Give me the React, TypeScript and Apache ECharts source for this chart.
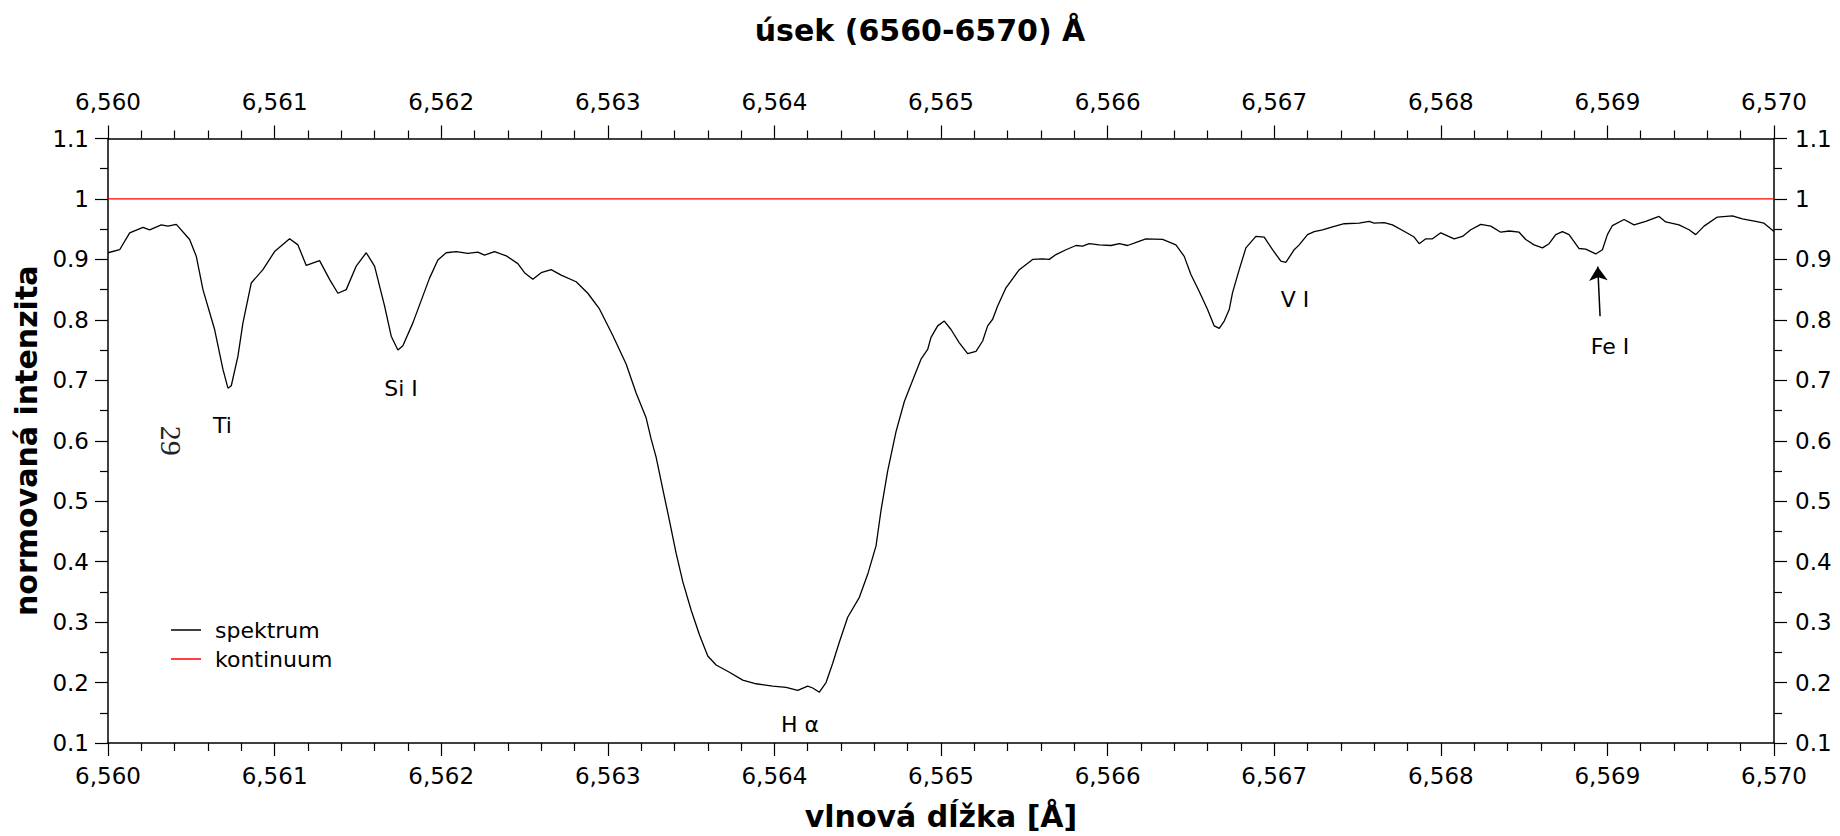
import React, { useEffect, useRef } from "react";
import * as echarts from "echarts";

const FONT = "DejaVu Sans";

const wavelengths = [
  6560.0, 6560.07, 6560.13, 6560.21, 6560.25, 6560.32, 6560.36, 6560.41, 6560.49, 6560.53,
  6560.57, 6560.64, 6560.69, 6560.72, 6560.74, 6560.78, 6560.81, 6560.86, 6560.93, 6561.0,
  6561.09, 6561.14, 6561.19, 6561.27, 6561.33, 6561.38, 6561.43, 6561.49, 6561.55, 6561.6,
  6561.66, 6561.7, 6561.74, 6561.77, 6561.83, 6561.93, 6561.98, 6562.03, 6562.09, 6562.16,
  6562.22, 6562.26, 6562.32, 6562.39, 6562.46, 6562.5, 6562.55, 6562.6, 6562.66, 6562.72,
  6562.81, 6562.88, 6562.95, 6563.03, 6563.11, 6563.17, 6563.23, 6563.26, 6563.29, 6563.33,
  6563.37, 6563.41, 6563.45, 6563.5, 6563.55, 6563.6, 6563.65, 6563.73, 6563.81, 6563.89,
  6563.99, 6564.07, 6564.14, 6564.2, 6564.23, 6564.27, 6564.31, 6564.35, 6564.39, 6564.44,
  6564.51, 6564.56, 6564.61, 6564.64, 6564.68, 6564.73, 6564.78, 6564.84, 6564.88, 6564.92,
  6564.94, 6564.98, 6565.02, 6565.06, 6565.11, 6565.16, 6565.21, 6565.25, 6565.28, 6565.31,
  6565.34, 6565.39, 6565.47, 6565.55, 6565.61, 6565.65, 6565.69, 6565.75, 6565.81, 6565.85,
  6565.89, 6565.95, 6566.02, 6566.07, 6566.12, 6566.18, 6566.23, 6566.33, 6566.41, 6566.46,
  6566.5, 6566.55, 6566.6, 6566.64, 6566.67, 6566.7, 6566.73, 6566.75, 6566.79, 6566.83,
  6566.89, 6566.94, 6566.99, 6567.04, 6567.07, 6567.12, 6567.15, 6567.2, 6567.24, 6567.29,
  6567.35, 6567.42, 6567.51, 6567.57, 6567.6, 6567.66, 6567.71, 6567.79, 6567.84, 6567.87,
  6567.91, 6567.95, 6568.0, 6568.08, 6568.13, 6568.18, 6568.24, 6568.3, 6568.36, 6568.41,
  6568.47, 6568.51, 6568.56, 6568.61, 6568.65, 6568.69, 6568.73, 6568.77, 6568.83, 6568.87,
  6568.93, 6568.97, 6569.0, 6569.03, 6569.1, 6569.16, 6569.23, 6569.31, 6569.35, 6569.43,
  6569.49, 6569.53, 6569.58, 6569.66, 6569.75, 6569.81, 6569.89, 6569.94, 6570.0,
];

const intensities = [
  0.911, 0.916, 0.944, 0.953, 0.949, 0.957, 0.955, 0.958, 0.933, 0.905,
  0.85, 0.784, 0.718, 0.687, 0.691, 0.74, 0.795, 0.861, 0.883, 0.913,
  0.934, 0.924, 0.89, 0.898, 0.867, 0.844, 0.85, 0.889, 0.911, 0.889,
  0.823, 0.773, 0.75, 0.757, 0.795, 0.869, 0.899, 0.911, 0.913, 0.91,
  0.912, 0.907, 0.913, 0.906, 0.893, 0.878, 0.867, 0.878, 0.883, 0.874,
  0.863, 0.844, 0.818, 0.774, 0.727, 0.679, 0.638, 0.603, 0.573, 0.52,
  0.468, 0.414, 0.367, 0.32, 0.279, 0.244, 0.229, 0.217, 0.204, 0.198,
  0.194, 0.192, 0.187, 0.194, 0.191, 0.184, 0.2, 0.232, 0.267, 0.308,
  0.341, 0.379, 0.426, 0.485, 0.55, 0.615, 0.665, 0.707, 0.735, 0.751,
  0.771, 0.79, 0.798, 0.784, 0.762, 0.744, 0.748, 0.765, 0.79, 0.801,
  0.823, 0.853, 0.883, 0.9, 0.901, 0.9, 0.908, 0.916, 0.923, 0.922,
  0.926, 0.924, 0.923, 0.926, 0.923, 0.929, 0.934, 0.933, 0.924, 0.905,
  0.875, 0.847, 0.817, 0.79, 0.786, 0.798, 0.817, 0.845, 0.883, 0.919,
  0.938, 0.937, 0.916, 0.897, 0.895, 0.916, 0.924, 0.941, 0.946, 0.949,
  0.954, 0.959, 0.96, 0.963, 0.96, 0.961, 0.957, 0.945, 0.937, 0.926,
  0.934, 0.934, 0.944, 0.934, 0.938, 0.949, 0.958, 0.955, 0.945, 0.947,
  0.945, 0.933, 0.924, 0.919, 0.926, 0.941, 0.946, 0.941, 0.918, 0.917,
  0.909, 0.916, 0.941, 0.956, 0.966, 0.957, 0.963, 0.971, 0.962, 0.957,
  0.949, 0.941, 0.955, 0.97, 0.972, 0.967, 0.963, 0.96, 0.946,
];

const continuumX = [6560, 6570];
const continuumY = [1, 1];

const annotationTexts = ["Ti", "Si I", "H α", "V I", "Fe I", "29"];
const annotationX = [6560.687, 6561.759, 6564.154, 6567.125, 6569.016, 6560.384];
const annotationY = [0.625, 0.687, 0.13, 0.834, 0.756, 0.6];

const arrowFrom = [6568.956, 0.806];
const arrowTo = [6568.942, 0.888];

const xMin = 6560;
const xMax = 6570;
const yMin = 0.1;
const yMax = 1.1;

const fmtX = (v: number) => {
  const s = String(Math.round(v));
  return s.slice(0, 1) + "," + s.slice(1);
};
const fmtY = (v: number) => String(Math.round(v * 10) / 10);

export default function App() {
  const ref = useRef<HTMLDivElement>(null);

  useEffect(() => {
    if (!ref.current) return;
    const chart = echarts.init(ref.current, null, { renderer: "svg" });

    const axisLine = { show: true, onZero: false, lineStyle: { color: "#000", width: 1.5 } };
    const axisTick = { show: true, length: 13, lineStyle: { color: "#000", width: 1.2 } };
    const minorLine = { color: "#000", width: 1.2 };
    const labelStyle = { fontSize: 23, color: "#000", fontFamily: FONT };
    const nameStyle = { fontSize: 30, fontWeight: "bold" as const, color: "#000", fontFamily: FONT };

    const xBase = {
      type: "value" as const,
      min: xMin,
      max: xMax,
      interval: 1,
      axisLine,
      axisTick,
      minorTick: { show: true, splitNumber: 5, length: 8, lineStyle: minorLine },
      splitLine: { show: false },
      minorSplitLine: { show: false },
    };
    const yBase = {
      type: "value" as const,
      min: yMin,
      max: yMax,
      interval: 0.1,
      axisLine,
      axisTick,
      minorTick: { show: true, splitNumber: 2, length: 8, lineStyle: minorLine },
      splitLine: { show: false },
      minorSplitLine: { show: false },
    };

    const spectrum = wavelengths.map((w, i) => [w, intensities[i]]);
    const continuum = continuumX.map((w, i) => [w, continuumY[i]]);

    chart.setOption({
      animation: false,
      backgroundColor: "#fff",
      title: {
        text: "úsek (6560-6570) Å",
        left: "center",
        top: 10,
        textStyle: nameStyle,
      },
      legend: {
        orient: "vertical",
        left: 166,
        top: 614,
        itemWidth: 30,
        itemHeight: 1.5,
        itemGap: 7,
        icon: "rect",
        selectedMode: false,
        textStyle: { ...labelStyle, fontSize: 22, padding: [0, 0, 0, 9] },
        data: ["spektrum", "kontinuum"],
      },
      grid: { left: 108, right: 66, top: 138.5, bottom: 91, containLabel: false },
      xAxis: [
        {
          ...xBase,
          position: "bottom",
          name: "vlnová dĺžka [Å]",
          nameLocation: "middle",
          nameGap: 58,
          nameTextStyle: nameStyle,
          axisLabel: { ...labelStyle, margin: 21, formatter: fmtX },
        },
        {
          ...xBase,
          position: "top",
          axisLabel: { ...labelStyle, margin: 25, formatter: fmtX },
        },
      ],
      yAxis: [
        {
          ...yBase,
          position: "left",
          name: "normovaná intenzita",
          nameLocation: "middle",
          nameGap: 63,
          nameTextStyle: nameStyle,
          axisLabel: { ...labelStyle, margin: 19, formatter: fmtY },
        },
        {
          ...yBase,
          position: "right",
          axisLabel: { ...labelStyle, margin: 21, formatter: fmtY },
        },
      ],
      series: [
        {
          name: "spektrum",
          type: "line",
          xAxisIndex: 0,
          yAxisIndex: 0,
          data: spectrum,
          symbol: "none",
          showSymbol: false,
          lineStyle: { color: "#000", width: 1.3 },
          itemStyle: { color: "#000" },
          markPoint: {
            silent: true,
            symbol: "circle",
            symbolSize: 1,
            itemStyle: { color: "rgba(0,0,0,0)" },
            label: { show: true, position: "inside", ...labelStyle, fontSize: 22 },
            data: annotationTexts.map((t, i) => ({
              coord: [annotationX[i], annotationY[i]],
              value: t,
              label:
                t === "29"
                  ? {
                      formatter: t,
                      rotate: -90,
                      fontFamily: "Liberation Serif",
                      fontSize: 30,
                      color: "#222",
                    }
                  : { formatter: t },
            })),
          },
          markLine: {
            silent: true,
            symbol: ["none", "arrow"],
            symbolSize: 14,
            label: { show: false },
            lineStyle: { color: "#000", width: 1.5, type: "solid" },
            data: [[{ coord: arrowFrom }, { coord: arrowTo }]],
          },
        },
        {
          name: "kontinuum",
          type: "line",
          xAxisIndex: 0,
          yAxisIndex: 0,
          data: continuum,
          symbol: "none",
          showSymbol: false,
          lineStyle: { color: "#ff0000", width: 1.2 },
          itemStyle: { color: "#ff0000" },
        },
      ],
    });

    return () => chart.dispose();
  }, []);

  return (
    <div
      ref={ref}
      style={{ position: "fixed", left: 0, top: 0, width: 1840, height: 836, background: "#fff" }}
    />
  );
}
